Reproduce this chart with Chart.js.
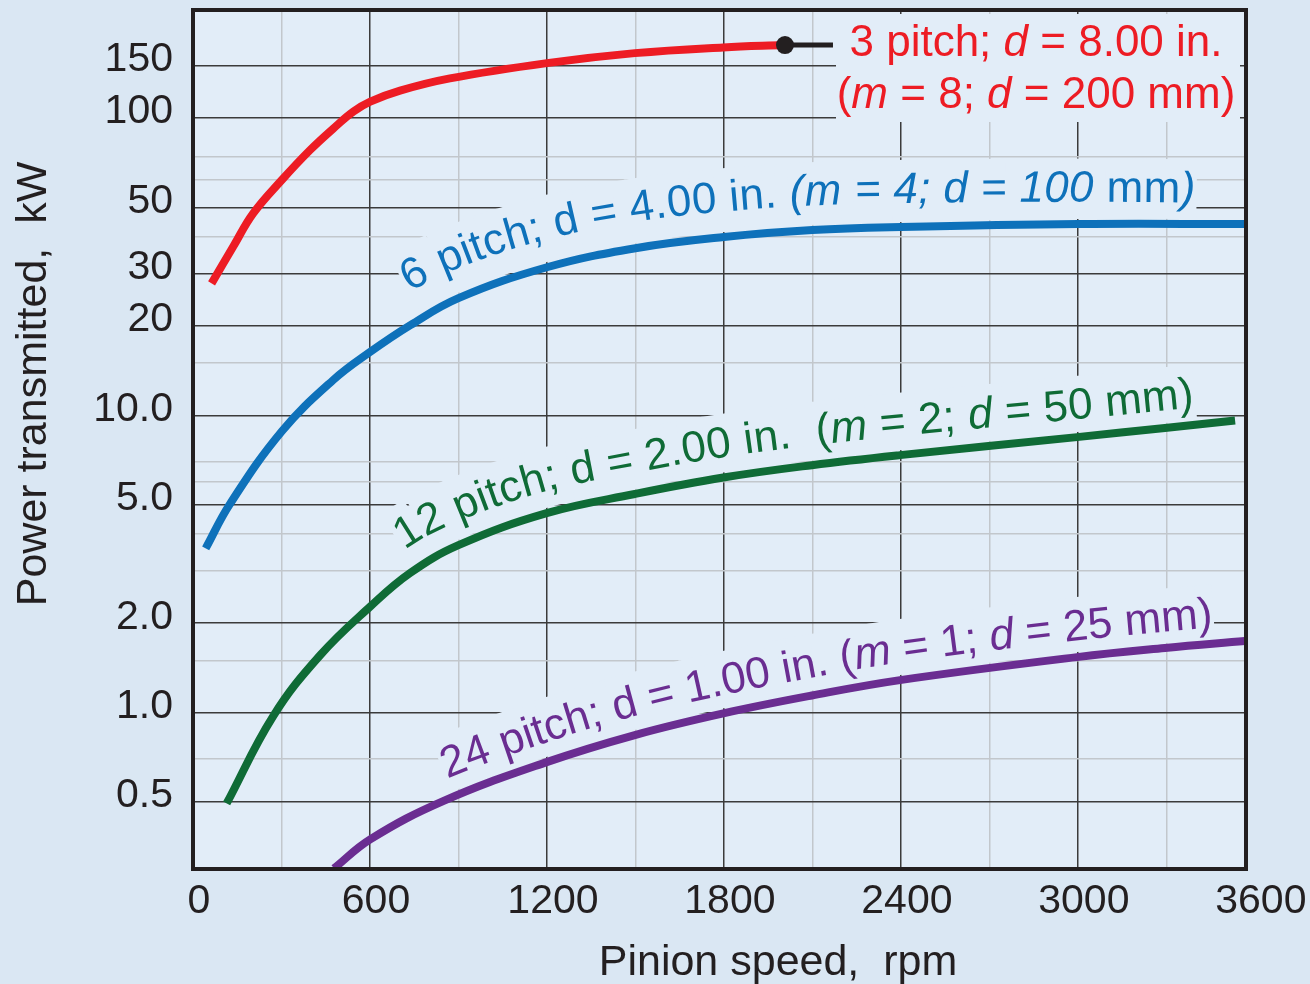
<!DOCTYPE html>
<html>
<head>
<meta charset="utf-8">
<script src="https://cdn.jsdelivr.net/npm/chart.js@4.4.1/dist/chart.umd.min.js"></script>
<style>
  html, body { margin: 0; padding: 0; background: #dae7f3; }
  #wrap { width: 1310px; height: 984px; }
</style>
</head>
<body>
<div id="wrap"><canvas id="G1" width="1310" height="984"></canvas></div>
<script>
// pinion speed (rpm) vs power transmitted (kW)
const rpm3  = [63, 136, 204, 301, 397, 476, 544, 601, 702, 871, 1200, 1498, 1797, 2007];
const kw3   = [27.8, 36.9, 47.8, 61.9, 78.1, 92.3, 105.2, 113.6, 123.7, 136.0, 153.1, 165.4, 172.9, 176.0];
const rpm6  = [43, 125, 302, 475, 600, 737, 900, 1200, 1500, 1800, 2100, 2400, 3000, 3570];
const kw6   = [3.57, 5.03, 8.86, 13.14, 16.33, 20.12, 24.8, 31.5, 36.5, 39.8, 42.0, 43.0, 44.0, 44.0];
const rpm12 = [114, 272, 431, 602, 736, 900, 1199, 1498, 1798, 2098, 2397, 2997, 3295, 3533];
const kw12  = [0.495, 0.974, 1.56, 2.28, 2.95, 3.66, 4.69, 5.44, 6.18, 6.80, 7.35, 8.45, 9.07, 9.61];
const rpm24 = [478, 602, 848, 1199, 1498, 1798, 2098, 2397, 2997, 3295, 3566];
const kw24  = [0.2995, 0.3757, 0.5042, 0.682, 0.841, 0.9945, 1.142, 1.287, 1.538, 1.650, 1.741];

const xTicks = [0, 600, 1200, 1800, 2400, 3000, 3600];
const xTickLabels = ['0', '600', '1200', '1800', '2400', '3000', '3600'];
const xMinor = [300, 900, 1500, 2100, 2700, 3300];
const yTicks = [0.5, 1, 2, 5, 10, 20, 30, 50, 100, 150];
const yTickLabels = ['0.5', '1.0', '2.0', '5.0', '10.0', '20', '30', '50', '100', '150'];
const yMinor = [0.7, 1.5, 3, 4, 6, 7, 15, 40, 62, 74];

const INK = '#231f20';
const PAGE_BG = '#dae7f3';
const PLOT_BG = '#e2edf8';
const RED = '#ed1c24', BLUE = '#0e71ba', GREEN = '#0f6b36', PURPLE = '#6a2d91';
const FONT = '"Liberation Sans", Arial, sans-serif';

function pts(xs, ys) { return xs.map((x, i) => ({ x: x, y: ys[i] })); }

// labels that run along the curves
const curveLabels = [
  { ds: 1, start: 786, off: [28, 21], size: 44, track: 0.35, color: BLUE,
    segs: [['6 pitch; d = 4.00 in. ', false], ['(m = 4; d = 100', true], [' mm', false], [')', true]] },
  { ds: 2, start: 758, off: [22, 17], size: 44, track: 0.3, color: GREEN,
    segs: [['12 pitch; d = 2.00 in.  (', false], ['m', true], [' = 2; ', false], ['d', true], [' = 50 mm)', false]] },
  { ds: 3, start: 878, off: [19, 16], size: 44, track: 0, color: PURPLE,
    segs: [['24 pitch; d = 1.00 in. (', false], ['m', true], [' = 1; ', false], ['d', true], [' = 25 mm)', false]] }
];
const redLines = [
  [['3 pitch; ', false], ['d', true], [' = 8.00 in.', false]],
  [['(', false], ['m', true], [' = 8; ', false], ['d', true], [' = 200 mm)', false]]
];

function fontOf(size, it) { return (it ? 'italic ' : '') + size + 'px ' + FONT; }

function offsetCurve(chart, l) {
  const meta = chart.getDatasetMeta(l.ds);
  meta.dataset.updateControlPoints(chart.chartArea, 'x');
  const p = meta.data;
  const base = [];
  for (let i = 0; i < p.length - 1; i++) {
    const a = p[i], b = p[i + 1];
    const c1x = a.cp2x ?? a.x, c1y = a.cp2y ?? a.y, c2x = b.cp1x ?? b.x, c2y = b.cp1y ?? b.y;
    for (let k = 0; k < 30; k++) {
      const t = k / 30, u = 1 - t;
      base.push({
        x: u*u*u*a.x + 3*u*u*t*c1x + 3*u*t*t*c2x + t*t*t*b.x,
        y: u*u*u*a.y + 3*u*u*t*c1y + 3*u*t*t*c2y + t*t*t*b.y
      });
    }
  }
  base.push({ x: p[p.length - 1].x, y: p[p.length - 1].y });
  const sx = chart.scales.x.getPixelForValue(l.start);
  const from = base.filter(q => q.x >= sx);
  const n = from.length, x0 = from[0].x, x1 = from[n - 1].x;
  const out = [];
  let s = 0;
  for (let i = 0; i < n; i++) {
    const a = from[Math.max(0, i - 1)], b = from[Math.min(n - 1, i + 1)];
    let tx = b.x - a.x, ty = b.y - a.y;
    const len = Math.hypot(tx, ty) || 1; tx /= len; ty /= len;
    const off = l.off[0] + (l.off[1] - l.off[0]) * (from[i].x - x0) / (x1 - x0);
    const q = { x: from[i].x + ty * off, y: from[i].y - tx * off, off: off };
    if (i > 0) s += Math.hypot(q.x - out[i - 1].x, q.y - out[i - 1].y);
    q.s = s;
    out.push(q);
  }
  return out;
}

function at(path, s) {
  let i = 1;
  while (i < path.length - 1 && path[i].s < s) i++;
  const a = path[i - 1], b = path[i];
  const f = b.s > a.s ? (s - a.s) / (b.s - a.s) : 0;
  return { x: a.x + (b.x - a.x) * f, y: a.y + (b.y - a.y) * f, off: a.off + (b.off - a.off) * f };
}

function drawCurveText(chart, l, band) {
  const ctx = chart.ctx;
  const path = offsetCurve(chart, l);
  let s = 0;
  ctx.save();
  ctx.textBaseline = 'alphabetic';
  ctx.fillStyle = band ? PLOT_BG : l.color;
  l.segs.forEach(([txt, it]) => {
    ctx.font = fontOf(l.size, it);
    for (const ch of txt) {
      const w = ctx.measureText(ch).width;
      const m = at(path, s + w / 2);
      const p0 = at(path, s + w / 2 - 6), p1 = at(path, s + w / 2 + 6);
      ctx.save();
      ctx.translate(m.x, m.y);
      ctx.rotate(Math.atan2(p1.y - p0.y, p1.x - p0.x));
      if (band) ctx.fillRect(-w / 2 - 1, -l.size * 0.98, w + 2 + l.track, l.size * 0.98 + m.off - 5);
      else ctx.fillText(ch, -w / 2, 0);
      ctx.restore();
      s += w + l.track;
    }
  });
  ctx.restore();
}

function drawRich(ctx, segs, cx, y, size, color) {
  let total = 0;
  segs.forEach(([t, it]) => { ctx.font = fontOf(size, it); total += ctx.measureText(t).width; });
  let x = cx - total / 2;
  ctx.fillStyle = color;
  ctx.textAlign = 'left';
  ctx.textBaseline = 'alphabetic';
  segs.forEach(([t, it]) => { ctx.font = fontOf(size, it); ctx.fillText(t, x, y); x += ctx.measureText(t).width; });
}

const decor = {
  id: 'decor',
  beforeDraw(chart) {
    const { ctx, chartArea: a } = chart;
    ctx.save();
    ctx.fillStyle = PAGE_BG;
    ctx.fillRect(0, 0, chart.width, chart.height);
    ctx.fillStyle = PLOT_BG;
    ctx.fillRect(a.left, a.top, a.right - a.left, a.bottom - a.top);
    ctx.restore();
  },
  beforeDatasetsDraw(chart) {
    const ctx = chart.ctx;
    ctx.save();
    ctx.fillStyle = PLOT_BG;
    ctx.fillRect(836, 14, 404, 108);
    curveLabels.forEach(l => drawCurveText(chart, l, true));
    const meta = chart.getDatasetMeta(0);
    const end = meta.data[meta.data.length - 1];
    ctx.strokeStyle = INK;
    ctx.lineWidth = 5;
    ctx.beginPath();
    ctx.moveTo(end.x, end.y);
    ctx.lineTo(end.x + 48, end.y);
    ctx.stroke();
    ctx.restore();
  },
  afterDatasetsDraw(chart) {
    const { ctx, chartArea: a } = chart;
    curveLabels.forEach(l => drawCurveText(chart, l, false));
    ctx.save();
    drawRich(ctx, redLines[0], 1036, 56, 44, RED);
    drawRich(ctx, redLines[1], 1036, 108, 44, RED);
    ctx.strokeStyle = INK;
    ctx.lineWidth = 4;
    ctx.strokeRect(a.left, a.top, a.right - a.left, a.bottom - a.top);
    ctx.restore();
  },
  afterDraw(chart) {
    const ctx = chart.ctx;
    ctx.save();
    ctx.fillStyle = INK;
    ctx.font = '43px ' + FONT;
    ctx.textAlign = 'center';
    ctx.textBaseline = 'alphabetic';
    ctx.fillText('Pinion speed,  rpm', 778, 975);
    ctx.translate(46, 384);
    ctx.rotate(-Math.PI / 2);
    ctx.fillText('Power transmitted,  kW', 0, 0);
    ctx.restore();
  }
};

const data = {
  datasets: [
    { label: '3 pitch', data: pts(rpm3, kw3), borderColor: RED },
    { label: '6 pitch', data: pts(rpm6, kw6), borderColor: BLUE },
    { label: '12 pitch', data: pts(rpm12, kw12), borderColor: GREEN },
    { label: '24 pitch', data: pts(rpm24, kw24), borderColor: PURPLE }
  ].map(d => Object.assign(d, {
    borderWidth: 8,
    borderCapStyle: 'butt',
    tension: 0.4,
    fill: false,
    pointRadius: c => (c.datasetIndex === 0 && c.dataIndex === rpm3.length - 1) ? 9 : 0,
    pointBackgroundColor: INK,
    pointBorderWidth: 0,
    pointHoverRadius: 0
  }))
};

const config = {
  type: 'line',
  data: data,
  options: {
    responsive: false,
    devicePixelRatio: 1,
    animation: false,
    events: [],
    layout: { padding: { left: 0, right: 64, top: 10, bottom: 0 } },
    plugins: { legend: { display: false }, tooltip: { enabled: false } },
    scales: {
      x: {
        type: 'linear',
        min: 0,
        max: 3570,
        afterBuildTicks: s => { s.ticks = xTicks.concat(xMinor).sort((a, b) => a - b).map(v => ({ value: v })); },
        afterFit: s => { s.height = 115; s.paddingLeft = 0; s.paddingRight = 0; },
        border: { display: false },
        grid: {
          drawTicks: false,
          color: c => c.tick.value > 3570 ? 'rgba(0,0,0,0)' : (xTicks.includes(c.tick.value) ? '#3b3b3b' : '#c2c7cc'),
          lineWidth: 1.5
        },
        ticks: {
          autoSkip: false,
          maxRotation: 0,
          padding: 8,
          labelOffset: 6,
          color: INK,
          font: { family: FONT, size: 41 },
          callback: v => { const i = xTicks.indexOf(v); return i < 0 ? '' : xTickLabels[i]; }
        }
      },
      y: {
        type: 'logarithmic',
        min: 0.298,
        max: 231,
        afterBuildTicks: s => { s.ticks = yTicks.concat(yMinor).sort((a, b) => a - b).map(v => ({ value: v })); },
        afterFit: s => { s.width = 193; s.paddingTop = 0; s.paddingBottom = 0; },
        border: { display: false },
        grid: {
          drawTicks: false,
          color: c => yTicks.includes(c.tick.value) ? '#3b3b3b' : '#c2c7cc',
          lineWidth: 1.5
        },
        ticks: {
          autoSkip: false,
          padding: 20,
          labelOffset: -6,
          color: INK,
          font: { family: FONT, size: 41 },
          callback: v => { const i = yTicks.indexOf(v); return i < 0 ? '' : yTickLabels[i]; }
        }
      }
    }
  },
  plugins: [decor]
};

new Chart(document.getElementById('G1'), config);
</script>
</body>
</html>
